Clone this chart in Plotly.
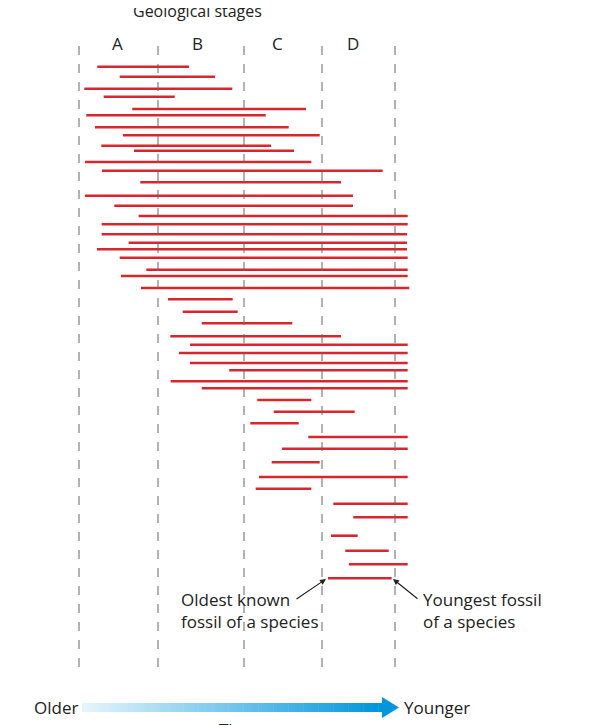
import plotly.graph_objects as go

# species ranges (pixel-based time units, row position)
rows   = [65.7,75.7,87.7,95.7,108,114.3,126.3,134.3,144.7,149.7,161,169.7,181.3,194.7,204.7,215,223.3,233.3,241.7,248.3,256.7,268.7,275,287,
          298.3,310.7,322.3,335.3,343.7,352,362,369.3,380.3,387.3,399,410.7,422.3,436,447.7,461.3,476,487.7,502.7,516.3,534.7,549.7,563.3,577.3]
oldest = [97.3,119.7,84.3,103.7,132.3,86.3,95,123,101.3,134,85,102,140.3,85,114.3,138.7,101.7,101.7,128.7,97,119.7,146.3,121,141,
          168,182.7,201.7,170.3,190,179,190,229.3,170.7,201.7,257.3,273.7,250.3,308.3,282,271.7,259,255.7,333.3,353.3,331,345.3,349,328]
youngest=[189,215,232.3,174.7,306,265.7,288.7,319.7,271,294,311.3,382.7,341,353,353,407.7,407.7,407,407,407,407.7,407.7,407.7,409.3,
          232.7,237.7,292.3,341,407.7,407.7,407.7,407.7,407.7,407.7,311.3,354.7,298.7,407.7,407.7,319.7,407.7,311.3,407.7,407.7,357.7,388.7,407.7,391.7]
stage_bounds = [79,158,244,322,395]
stage_labels = ["A","B","C","D"]
stage_label_x = [117,197,277,353]

fig = go.Figure()
xs, ys = [], []
for y, a, b in zip(rows, oldest, youngest):
    xs += [a, b, None]; ys += [y, y, None]
fig.add_trace(go.Scatter(x=xs, y=ys, mode="lines", line=dict(color="#d7262e", width=2.6), hoverinfo="skip"))

shapes = []
for b in stage_bounds:
    shapes.append(dict(type="line", x0=b, x1=b, y0=45, y1=668, xref="x", yref="y",
                       line=dict(color="#666", width=1, dash="dash")))
n = 80
x0, x1 = 82, 382
for i in range(n):
    t = i / (n - 1)
    r = int(230 + (0 - 230) * t); g = int(245 + (150 - 245) * t); bl = int(252 + (220 - 252) * t)
    shapes.append(dict(type="rect", x0=x0 + (x1 - x0) * i / n, x1=x0 + (x1 - x0) * (i + 1) / n + 0.5,
                       y0=702, y1=711, line=dict(width=0), fillcolor=f"rgb({r},{g},{bl})"))
shapes.append(dict(type="path", path="M 382 696 L 399 706.5 L 382 717 Z", fillcolor="rgb(0,150,220)", line=dict(width=0)))
fig.update_layout(shapes=shapes)

font = dict(family="Open Sans, Liberation Sans, sans-serif", color="#222")
ann = [dict(x=197, y=10, text="Geological stages", font=dict(size=16, **font))]
for lx, lab in zip(stage_label_x, stage_labels):
    ann.append(dict(x=lx, y=42, text=lab, font=dict(size=17, **font)))
ann += [
    dict(x=321, y=609, text="Oldest known<br>fossil of a species", xanchor="right", align="left", font=dict(size=17, **font)),
    dict(x=421, y=609, text="Youngest fossil<br>of a species", xanchor="left", align="left", font=dict(size=17, **font)),
    dict(x=56, y=706, text="Older", font=dict(size=17, **font)),
    dict(x=437, y=706, text="Younger", font=dict(size=17, **font)),
    dict(x=238, y=728, text="Time", font=dict(size=17, **font)),
    dict(x=326, y=578, ax=295, ay=599, axref="x", ayref="y", text="", showarrow=True, arrowhead=2, arrowsize=1, arrowwidth=1.2, arrowcolor="#222"),
    dict(x=393, y=578, ax=419, ay=599, axref="x", ayref="y", text="", showarrow=True, arrowhead=2, arrowsize=1, arrowwidth=1.2, arrowcolor="#222"),
]
for a in ann:
    a.setdefault("showarrow", False); a["xref"] = "x"; a["yref"] = "y"
fig.update_layout(annotations=ann, width=595, height=725, margin=dict(l=0, r=0, t=0, b=0),
                  paper_bgcolor="white", plot_bgcolor="white", showlegend=False,
                  xaxis=dict(range=[8, 603], visible=False, fixedrange=True),
                  yaxis=dict(range=[732, 7], visible=False, fixedrange=True))
fig.write_html("out.html", config={"displayModeBar": False})
